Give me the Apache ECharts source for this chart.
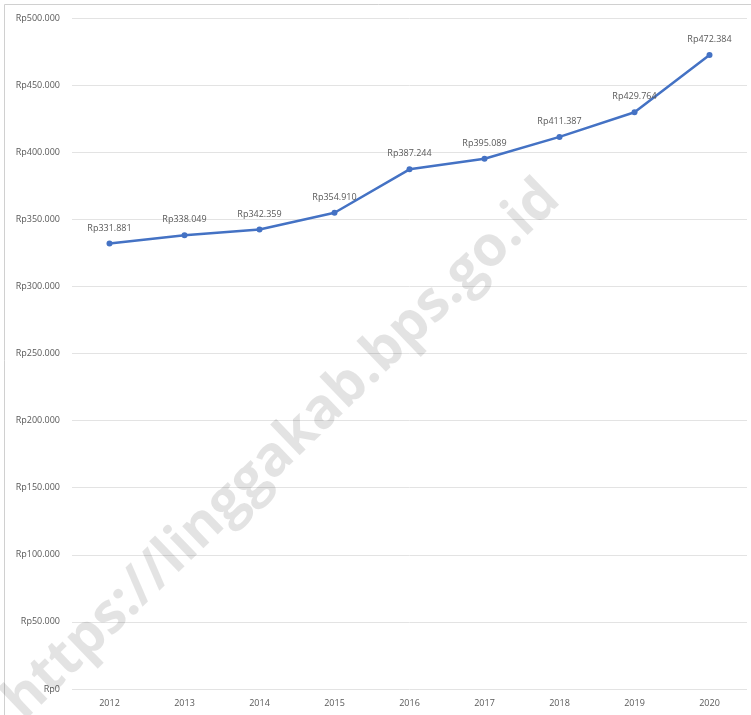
<!DOCTYPE html>
<html>
<head>
<meta charset="utf-8">
<script src="https://cdn.jsdelivr.net/npm/echarts@6/dist/echarts.min.js"></script>
<style>
  html, body { margin: 0; padding: 0; background: #fff; }
  #chart { width: 751px; height: 715px; }
</style>
</head>
<body>
<div id="chart"></div>
<script>
const years = ['2012', '2013', '2014', '2015', '2016', '2017', '2018', '2019', '2020']
const values = [331881, 338049, 342359, 354910, 387244, 395089, 411387, 429764, 472384]

function rupiah(v) {
  return 'Rp' + String(v).replace(/\B(?=(\d{3})+(?!\d))/g, '.')
}

const chart = echarts.init(document.getElementById('chart'))
chart.setOption({
  animation: false,
  textStyle: { fontFamily: 'Open Sans, sans-serif' },
  grid: { left: 72, right: 4, top: 18, bottom: 26 },
  xAxis: {
    type: 'category',
    data: years,
    boundaryGap: true,
    axisLine: { show: false },
    axisTick: { show: false },
    axisLabel: { color: '#595959', fontSize: 9, margin: 10 }
  },
  yAxis: {
    type: 'value',
    min: 0,
    max: 500000,
    interval: 50000,
    axisLine: { show: false },
    axisTick: { show: false },
    splitLine: { lineStyle: { color: '#e3e3e3', width: 1 } },
    axisLabel: { color: '#595959', fontSize: 9, margin: 12, formatter: rupiah }
  },
  graphic: [
    {
      type: 'rect',
      shape: { x: 4.5, y: 4.5, width: 760, height: 720 },
      style: { fill: 'none', stroke: '#d0d0d0', lineWidth: 1 },
      silent: true
    },
    {
      type: 'text',
      x: 282,
      y: 450,
      rotation: Math.PI * 44 / 180,
      style: {
        text: 'https://linggakab.bps.go.id',
        font: 'bold 56px "Open Sans", sans-serif',
        fill: 'rgba(0,0,0,0.11)',
        align: 'center',
        verticalAlign: 'middle'
      },
      z: 100,
      silent: true
    }
  ],
  series: [
    {
      type: 'line',
      data: values,
      symbol: 'circle',
      symbolSize: 6,
      itemStyle: { color: '#4472C4' },
      lineStyle: { color: '#4472C4', width: 2.5 },
      label: {
        show: true,
        position: 'top',
        distance: 8,
        color: '#595959',
        fontSize: 9,
        formatter: p => rupiah(p.value)
      }
    }
  ]
})
</script>
</body>
</html>
